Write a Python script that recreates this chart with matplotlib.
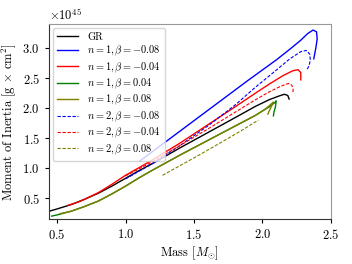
import numpy as np
import matplotlib
matplotlib.use('Agg')
import matplotlib.pyplot as plt

plt.rcParams['font.family'] = 'serif'
plt.rcParams['font.serif'] = ['cmr10', 'DejaVu Serif']
plt.rcParams['mathtext.fontset'] = 'cm'
plt.rcParams['axes.formatter.use_mathtext'] = True
plt.rcParams['axes.unicode_minus'] = False

# mass [Msun], moment of inertia [1e45 g cm^2]
gr_m = [0.44, 0.5, 0.6, 0.7, 0.8, 0.9, 1.0, 1.1, 1.2, 1.4, 1.6, 1.8, 1.95, 2.05, 2.12, 2.16, 2.185, 2.195]
gr_i = [0.28, 0.32, 0.39, 0.48, 0.58, 0.70, 0.83, 0.96, 1.08, 1.34, 1.59, 1.84, 2.03, 2.14, 2.20, 2.23, 2.21, 2.15]

n1_m08_m = [1.105, 1.3, 1.5, 1.7, 1.9, 2.1, 2.2, 2.28, 2.33, 2.37, 2.395, 2.40, 2.39, 2.375]
n1_m08_i = [1.12, 1.45, 1.79, 2.13, 2.47, 2.80, 2.98, 3.13, 3.24, 3.30, 3.27, 3.15, 3.00, 2.82]

n1_m04_m = [0.58, 0.65, 0.7, 0.8, 0.9, 1.0, 1.1, 1.2, 1.4, 1.6, 1.8, 1.95, 2.05, 2.15, 2.22, 2.26, 2.28, 2.28]
n1_m04_i = [0.38, 0.43, 0.48, 0.59, 0.73, 0.88, 1.01, 1.14, 1.42, 1.72, 2.02, 2.25, 2.40, 2.54, 2.62, 2.64, 2.59, 2.47]

n1_p04_m = [0.46, 0.5, 0.6, 0.7, 0.8, 0.9, 1.0, 1.1, 1.2, 1.4, 1.6, 1.8, 1.95, 2.05, 2.09, 2.10, 2.095, 2.085, 2.08]
n1_p04_i = [0.20, 0.22, 0.28, 0.36, 0.45, 0.57, 0.70, 0.84, 0.97, 1.22, 1.46, 1.70, 1.88, 2.02, 2.09, 2.12, 2.02, 1.94, 1.87]

n1_p08_m = [0.52, 0.6, 0.7, 0.8, 0.9, 1.0, 1.1, 1.2, 1.4, 1.6, 1.8, 1.95, 2.03, 2.07, 2.08, 2.06, 2.045, 2.04]
n1_p08_i = [0.24, 0.28, 0.36, 0.45, 0.57, 0.70, 0.84, 0.97, 1.22, 1.46, 1.70, 1.88, 2.00, 2.08, 2.10, 2.00, 1.93, 1.90]

n2_m08_m = [1.0, 1.2, 1.4, 1.6, 1.8, 1.95, 2.1, 2.2, 2.28, 2.32, 2.345, 2.35, 2.34, 2.325]
n2_m08_i = [0.82, 1.08, 1.38, 1.70, 2.05, 2.35, 2.63, 2.82, 2.94, 2.96, 2.90, 2.80, 2.70, 2.64]

n2_m04_m = [1.0, 1.2, 1.4, 1.6, 1.8, 1.95, 2.05, 2.13, 2.19, 2.215, 2.225, 2.22]
n2_m04_i = [0.87, 1.11, 1.38, 1.65, 1.93, 2.14, 2.27, 2.36, 2.41, 2.38, 2.30, 2.25]

n2_p08_m = [1.27, 1.5, 1.7, 1.85, 1.97]
n2_p08_i = [0.88, 1.17, 1.43, 1.63, 1.80]

scale = 1e45

fig = plt.figure(figsize=(3.52, 2.64), dpi=100)
ax = fig.add_axes([0.139, 0.170, 0.801, 0.739])

ax.plot(gr_m, np.array(gr_i) * scale, color='black', lw=1.0, label='GR')
ax.plot(n1_m08_m, np.array(n1_m08_i) * scale, color='blue', lw=1.0, label=r'$n=1,\beta=-0.08$')
ax.plot(n1_m04_m, np.array(n1_m04_i) * scale, color='red', lw=1.0, label=r'$n=1,\beta=-0.04$')
ax.plot(n1_p04_m, np.array(n1_p04_i) * scale, color='green', lw=1.0, label=r'$n=1,\beta=0.04$')
ax.plot(n1_p08_m, np.array(n1_p08_i) * scale, color='olive', lw=1.0, label=r'$n=1,\beta=0.08$')
ax.plot(n2_m08_m, np.array(n2_m08_i) * scale, color='blue', lw=0.8, ls='--', dashes=(3, 1.5), label=r'$n=2,\beta=-0.08$')
ax.plot(n2_m04_m, np.array(n2_m04_i) * scale, color='red', lw=0.8, ls='--', dashes=(3, 1.5), label=r'$n=2,\beta=-0.04$')
ax.plot(n2_p08_m, np.array(n2_p08_i) * scale, color='olive', lw=0.8, ls='--', dashes=(3, 1.5), label=r'$n=2,\beta=0.08$')

ax.set_xlim(0.44, 2.5)
ax.set_ylim(0.15e45, 3.4e45)
ax.set_xticks([0.5, 1.0, 1.5, 2.0, 2.5])
ax.set_yticks(np.array([0.5, 1.0, 1.5, 2.0, 2.5, 3.0]) * scale)
ax.tick_params(labelsize=9, length=3, width=0.8)
ax.yaxis.get_offset_text().set_fontsize(9)

ax.set_xlabel(r'Mass [$M_{\odot}$]', fontsize=9, labelpad=2)
ax.set_ylabel(r'Moment of Inertia [g $\times$ cm$^2$]', fontsize=9, labelpad=3)

for s in ['top', 'right']:
    ax.spines[s].set_color('#999999')
for s in ['left', 'bottom']:
    ax.spines[s].set_color('#333333')

ax.legend(loc='upper left', fontsize=7.5, frameon=True, framealpha=0.8,
          edgecolor='#cccccc', handlelength=2.0, labelspacing=0.2,
          borderpad=0.4, handletextpad=0.9, borderaxespad=0.4)

fig.savefig('out.png', dpi=100)
